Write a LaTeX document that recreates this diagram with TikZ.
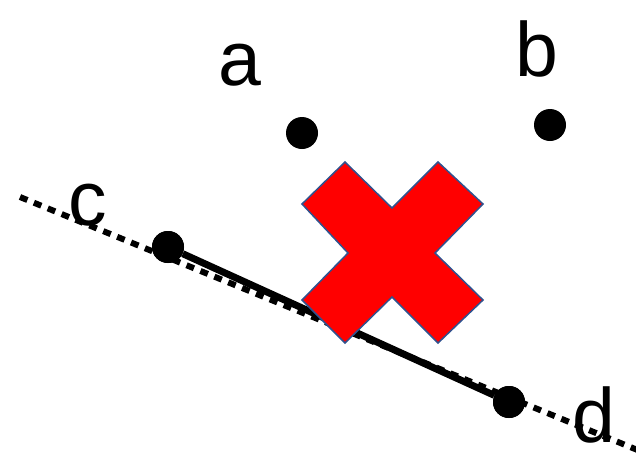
\documentclass[tikz,border=0pt]{standalone}
\usepackage{fontspec}
\setmainfont{Liberation Sans}
\definecolor{crossRed}{RGB}{255,0,0}
\definecolor{crossEdge}{RGB}{47,82,143}
\usetikzlibrary{positioning}

\begin{document}
\begin{tikzpicture}[
  x=1pt, y=-1pt,
  pt/.style={
    circle, fill=black, inner sep=0pt, minimum size=32pt
  },
  lbl/.style={anchor=base, font=\fontsize{77}{80}\selectfont, inner sep=0pt},
  seg/.style={draw=black, line width=7pt},
  dotline/.style={draw=black, line width=6pt, dash pattern=on 8pt off 7pt}
]
  \useasboundingbox (0,0) rectangle (636,458);
  % points
  \node[pt] (a) at (302,133) {};
  \node[pt] (b) at (550,125) {};
  \node[pt] (c) at (168,247) {};
  \node[pt] (d) at (509,402) {};
  % labels
  \node[lbl] (la) at (240,85) {a};
  \node[lbl] (lb) at (537,76) {b};
  \node[lbl] (lc) at (88,225) {c};
  \node[lbl] (ld) at (594,442) {d};
  % lines
  \coordinate (L1) at (20,197);
  \coordinate (L2) at (640,451);
  \draw[dotline] (L1) -- (L2);
  \draw[seg] (c) -- (d);
  % cross
  \draw[fill=crossRed, draw=crossEdge, line width=1.5pt, line join=miter]
    (345,162) -- (392,208) -- (438,162) -- (483,204) -- (435,253)
    -- (483,300) -- (438,343) -- (392,297) -- (345,343) -- (302,300)
    -- (348,253) -- (302,204) -- cycle;
  % redraw points on top
  \node[pt] at (c) {};
  \node[pt] at (d) {};
\end{tikzpicture}
\end{document}
